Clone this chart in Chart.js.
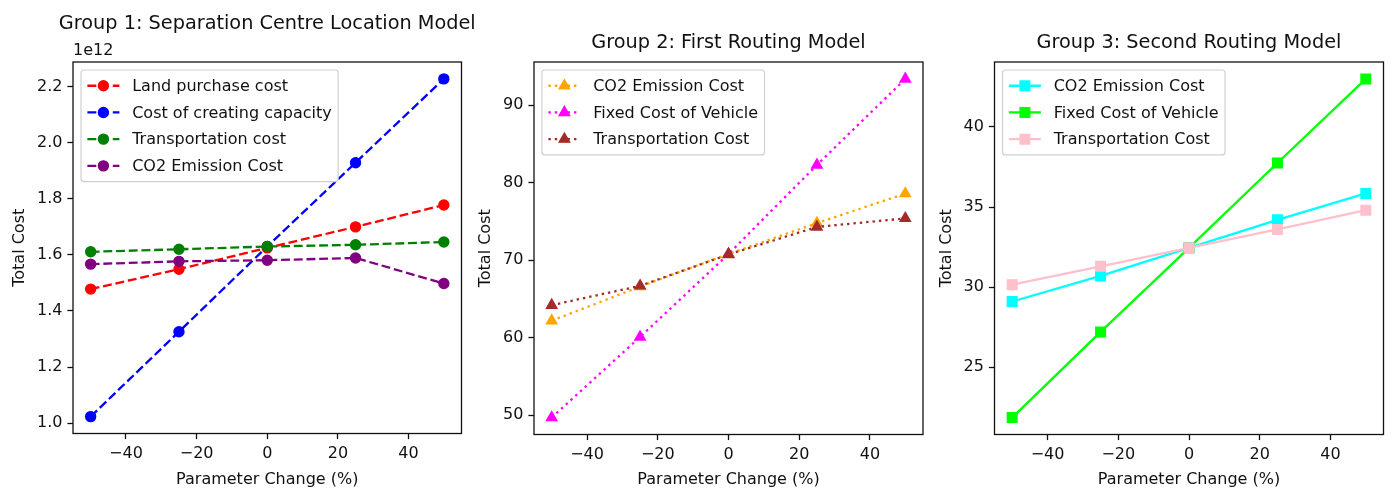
<!DOCTYPE html>
<html>
<head>
<meta charset="utf-8">
<script src="https://cdn.jsdelivr.net/npm/chart.js@4.4.1/dist/chart.umd.min.js"></script>
<style>
  html, body { margin: 0; padding: 0; background: #fff; overflow: hidden; }
  body { width: 1394px; height: 491px; position: relative; }
  canvas { position: absolute; top: 0; }
</style>
</head>
<body>
<canvas id="group1" width="490" height="491" style="left:0px"></canvas>
<canvas id="group2" width="470" height="491" style="left:470px"></canvas>
<canvas id="group3" width="464" height="491" style="left:930px"></canvas>
<script>
// Sensitivity of each cost component to a change in its parameter (%)
const paramChange = [-50, -25, 0, 25, 50];
const xTicks = [-40, -20, 0, 20, 40];

// Group 1: Separation Centre Location Model (values in currency units)
const landPurchaseCost   = [1.478e12, 1.549e12, 1.625e12, 1.700e12, 1.778e12];
const creatingCapacity   = [1.023e12, 1.326e12, 1.630e12, 1.929e12, 2.228e12];
const transportCostG1    = [1.611e12, 1.620e12, 1.630e12, 1.636e12, 1.646e12];
const co2EmissionCostG1  = [1.567e12, 1.577e12, 1.581e12, 1.589e12, 1.498e12];
const g1YTicks = [1.0e12, 1.2e12, 1.4e12, 1.6e12, 1.8e12, 2.0e12, 2.2e12];

// Group 2: First Routing Model
const co2EmissionCostG2  = [62.2, 66.6, 70.8, 74.8, 78.6];
const vehicleFixedCostG2 = [49.7, 60.1, 70.8, 82.3, 93.4];
const transportCostG2    = [64.2, 66.7, 70.75, 74.3, 75.4];
const g2YTicks = [50, 60, 70, 80, 90];

// Group 3: Second Routing Model
const co2EmissionCostG3  = [29.1, 30.7, 32.45, 34.2, 35.85];
const vehicleFixedCostG3 = [21.85, 27.2, 32.45, 37.75, 43.0];
const transportCostG3    = [30.15, 31.3, 32.45, 33.6, 34.8];
const g3YTicks = [25, 30, 35, 40];

const FONT = '"DejaVu Sans", sans-serif';
const INK = '#111';
const LABEL_SIZE = 16;
const TITLE_SIZE = 19.3;
const LINE_W = 2.3;
const DASHED = [8.9, 3.8];
const DOTTED = [2.4, 4.0];

const signed = v => (v < 0 ? '\u2212' + Math.abs(v) : String(v));

// Frame, title, offset text and boxed legend drawn inside the plot area
const panelDecor = {
  id: 'panelDecor',
  afterDraw(chart, args, o) {
    const ctx = chart.ctx, a = chart.chartArea;
    ctx.save();
    ctx.setLineDash([]);
    ctx.strokeStyle = INK;
    ctx.lineWidth = 1.3;
    ctx.strokeRect(a.left, a.top, a.right - a.left, a.bottom - a.top);

    ctx.fillStyle = INK;
    ctx.font = `${TITLE_SIZE}px ${FONT}`;
    ctx.textAlign = 'center';
    ctx.textBaseline = 'alphabetic';
    ctx.fillText(o.title, (a.left + a.right) / 2, o.titleBaseline);

    if (o.offsetText) {
      ctx.font = `${LABEL_SIZE}px ${FONT}`;
      ctx.textAlign = 'left';
      ctx.fillText(o.offsetText, a.left, a.top - 7);
    }

    // legend
    const fs = LABEL_SIZE;
    const sets = chart.data.datasets;
    ctx.font = `${fs}px ${FONT}`;
    const textW = Math.max(...sets.map(d => ctx.measureText(d.label).width));
    const pad = 0.4 * fs, handle = 2 * fs, gap = 0.8 * fs;
    const textH = 18.7, spacing = 0.5 * fs;
    const x0 = a.left + 0.5 * fs, y0 = a.top + 0.5 * fs;
    const w = 2 * pad + handle + gap + textW;
    const h = 2 * pad + sets.length * textH + (sets.length - 1) * spacing;
    ctx.beginPath();
    ctx.roundRect(x0, y0, w, h, 3);
    ctx.fillStyle = 'rgba(255,255,255,0.8)';
    ctx.fill();
    ctx.strokeStyle = '#d0d0d0';
    ctx.lineWidth = 1.2;
    ctx.stroke();

    sets.forEach((d, i) => {
      const cy = y0 + pad + textH / 2 + i * (textH + spacing);
      const lx = x0 + pad;
      ctx.save();
      ctx.strokeStyle = d.borderColor;
      ctx.lineWidth = d.borderWidth;
      ctx.setLineDash(d.borderDash || []);
      ctx.lineCap = 'butt';
      ctx.beginPath();
      ctx.moveTo(lx, cy);
      ctx.lineTo(lx + handle, cy);
      ctx.stroke();
      ctx.setLineDash([]);
      ctx.fillStyle = d.pointBackgroundColor;
      ctx.strokeStyle = d.pointBorderColor;
      ctx.lineWidth = d.pointBorderWidth;
      Chart.helpers.drawPoint(ctx, {
        pointStyle: d.pointStyle, radius: d.pointRadius, rotation: 0, borderWidth: d.pointBorderWidth
      }, lx + handle / 2, cy);
      ctx.restore();

      ctx.fillStyle = INK;
      ctx.textAlign = 'left';
      ctx.textBaseline = 'middle';
      ctx.fillText(d.label, lx + handle + gap, cy + 1);
    });
    ctx.restore();
  }
};

function series(label, values, color, dash, style, radius, idx, total) {
  return {
    label,
    data: paramChange.map((x, i) => ({ x, y: values[i] })),
    borderColor: color,
    backgroundColor: color,
    borderWidth: LINE_W,
    borderDash: dash,
    pointStyle: style,
    pointRadius: radius,
    pointBorderWidth: 1.4,
    pointBackgroundColor: color,
    pointBorderColor: color,
    tension: 0,
    fill: false,
    order: total - idx
  };
}

function paddedRange(arrays) {
  const all = arrays.flat();
  const lo = Math.min(...all), hi = Math.max(...all);
  const m = 0.05 * (hi - lo);
  return [lo - m, hi + m];
}

function buildChart(id, cfg) {
  const [yMin, yMax] = paddedRange(cfg.datasets.map(d => d.data.map(p => p.y)));
  const tickFont = { family: FONT, size: LABEL_SIZE };
  return new Chart(document.getElementById(id), {
    type: 'line',
    data: { datasets: cfg.datasets },
    options: {
      responsive: false,
      animation: false,
      events: [],
      devicePixelRatio: 1,
      layout: { padding: { left: 0, top: cfg.top, right: cfg.rightPad, bottom: 0 } },
      plugins: {
        legend: { display: false },
        tooltip: { enabled: false },
        title: { display: false },
        panelDecor: { title: cfg.title, titleBaseline: cfg.titleBaseline, offsetText: cfg.offsetText }
      },
      scales: {
        x: {
          type: 'linear',
          min: -55, max: 55,
          afterBuildTicks: s => { s.ticks = xTicks.map(v => ({ value: v })); },
          afterFit: s => { s.height = cfg.xAxisHeight; },
          ticks: { callback: v => signed(v), font: tickFont, color: INK, padding: 5.5, maxRotation: 0, autoSkip: false },
          grid: { drawOnChartArea: false, drawTicks: true, tickLength: 5.6, tickWidth: 1.3, tickColor: INK },
          border: { display: false },
          title: { display: true, text: 'Parameter Change (%)', font: tickFont, color: INK, padding: { top: 0, bottom: 1.4 } }
        },
        y: {
          type: 'linear',
          min: yMin, max: yMax,
          afterBuildTicks: s => { s.ticks = cfg.yTicks.map(v => ({ value: v })); },
          afterFit: s => { s.width = cfg.left; },
          ticks: { callback: cfg.yFormat, font: tickFont, color: INK, padding: 5, autoSkip: false },
          grid: { drawOnChartArea: false, drawTicks: true, tickLength: 5.6, tickWidth: 1.3, tickColor: INK },
          border: { display: false },
          title: { display: true, text: 'Total Cost', font: tickFont, color: INK, padding: { top: cfg.yTitlePad, bottom: 0 } }
        }
      }
    },
    plugins: [panelDecor]
  });
}

buildChart('group1', {
  title: 'Group 1: Separation Centre Location Model',
  titleBaseline: 28.8,
  offsetText: '1e12',
  top: 62, left: 73, rightPad: 490 - 461.5, xAxisHeight: 491 - 433.5,
  yTitlePad: 10.2,
  yTicks: g1YTicks,
  yFormat: v => (v / 1e12).toFixed(1),
  datasets: [
    series('Land purchase cost', landPurchaseCost, '#ff0000', DASHED, 'circle', 5, 0, 4),
    series('Cost of creating capacity', creatingCapacity, '#0000ff', DASHED, 'circle', 5, 1, 4),
    series('Transportation cost', transportCostG1, '#008000', DASHED, 'circle', 5, 2, 4),
    series('CO2 Emission Cost', co2EmissionCostG1, '#800080', DASHED, 'circle', 5, 3, 4)
  ]
});

buildChart('group2', {
  title: 'Group 2: First Routing Model',
  titleBaseline: 48,
  top: 62, left: 64, rightPad: 470 - 453, xAxisHeight: 491 - 434.5,
  yTitlePad: 6,
  yTicks: g2YTicks,
  yFormat: v => String(v),
  datasets: [
    series('CO2 Emission Cost', co2EmissionCostG2, '#ffa500', DOTTED, 'triangle', 6, 0, 3),
    series('Fixed Cost of Vehicle', vehicleFixedCostG2, '#ff00ff', DOTTED, 'triangle', 6, 1, 3),
    series('Transportation Cost', transportCostG2, '#a52a2a', DOTTED, 'triangle', 6, 2, 3)
  ]
});

buildChart('group3', {
  title: 'Group 3: Second Routing Model',
  titleBaseline: 48,
  top: 62, left: 64.5, rightPad: 464 - 453.5, xAxisHeight: 491 - 434.5,
  yTitlePad: 7,
  yTicks: g3YTicks,
  yFormat: v => String(v),
  datasets: [
    series('CO2 Emission Cost', co2EmissionCostG3, '#00ffff', [], 'rect', 6.8, 0, 3),
    series('Fixed Cost of Vehicle', vehicleFixedCostG3, '#00ff00', [], 'rect', 6.8, 1, 3),
    series('Transportation Cost', transportCostG3, '#ffc0cb', [], 'rect', 6.8, 2, 3)
  ]
});
</script>
</body>
</html>
